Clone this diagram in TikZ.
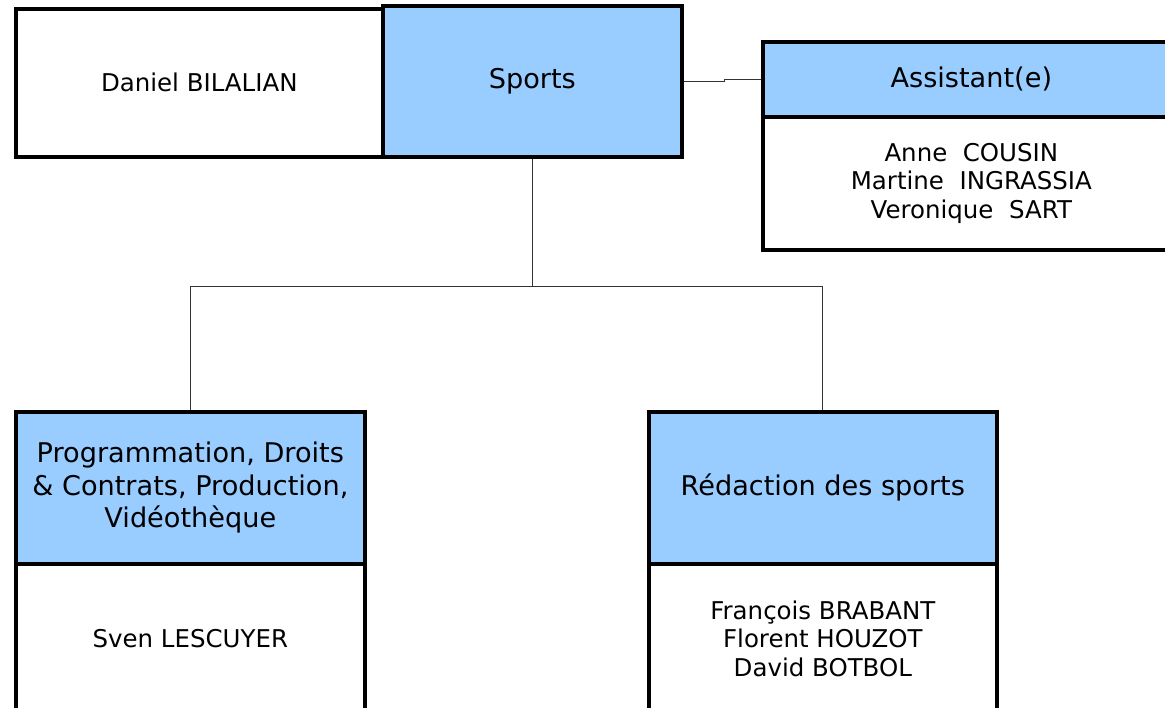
\documentclass[tikz,border=0pt]{standalone}
\usepackage{fontspec}
\setmainfont{DejaVu Sans}
\usepackage{tikz}
\usetikzlibrary{positioning}
\definecolor{ORGhead}{HTML}{99CCFF}
\definecolor{ORGline}{HTML}{333333}
\newcommand{\pu}{0.025cm}

\begin{document}
\begin{tikzpicture}[x=\pu, y=-\pu,
    box/.style={draw=black, line width=2.6pt, anchor=north west, inner sep=0pt,
      align=center, font={\fontsize{17.4}{20.3}\selectfont}},
    headbox/.style={box, fill=ORGhead, font={\fontsize{19.3}{23.1}\selectfont}},
    link/.style={ORGline, line width=0.7pt}]
  \useasboundingbox (0,0) rectangle (1165,708);
  \clip (0,0) rectangle (1165,708);

  % top row
  \node[box, minimum width=367*\pu, minimum height=148*\pu] (dan) at (14,7)
    {Daniel BILALIAN};
  \node[headbox, minimum width=299*\pu, minimum height=151*\pu] (sports) at (381,4)
    {Sports};

  % assistants
  \node[headbox, minimum width=417*\pu, minimum height=75*\pu] (asshead) at (761,40)
    {Assistant(e)};
  \node[box, minimum width=417*\pu, minimum height=133*\pu] (assbody) at (761,115)
    {Anne~~COUSIN\\Martine~~INGRASSIA\\Veronique~~SART};

  % departments
  \node[headbox, minimum width=349*\pu, minimum height=152*\pu] (proghead) at (14,410)
    {Programmation, Droits\\\& Contrats, Production,\\Vidéothèque};
  \node[box, minimum width=349*\pu, minimum height=150*\pu] (progbody) at (14,562)
    {Sven LESCUYER};
  \node[headbox, minimum width=348*\pu, minimum height=152*\pu] (redhead) at (647,410)
    {Rédaction des sports};
  \node[box, minimum width=348*\pu, minimum height=150*\pu] (redbody) at (647,562)
    {François BRABANT\\Florent HOUZOT\\David BOTBOL};

  % connectors
  \draw[link] (sports.east) -- ++(41,0) |- (asshead.west);
  \coordinate (fork) at ([yshift=-128*\pu]sports.south);
  \draw[link] (sports.south) -- (fork);
  \draw[link] (fork) -| (proghead.north);
  \draw[link] (fork) -| (redhead.north);
\end{tikzpicture}
\end{document}
